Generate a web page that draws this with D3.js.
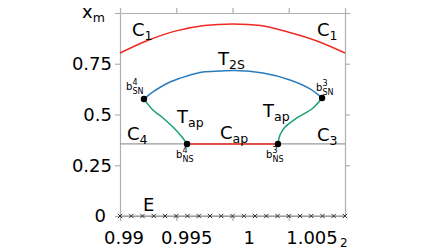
<!DOCTYPE html>
<html>
<head>
<meta charset="UTF-8">
<title></title>
<style>
  body { margin: 0; background: #fff; }
  svg text { font-family: "DejaVu Sans", sans-serif; fill: #000; }
  .axis path, .axis line { stroke: #b0b0b0; stroke-width: 1.2; }
</style>
</head>
<body>
<script src="https://cdn.jsdelivr.net/npm/d3@7"></script>
<script>
var width = 448;
var height = 252;

// axis ticks
var xTicks = [0.99, 0.995, 1, 1.005, 1.01];
var xTickLabels = ["0.99", "0.995", "1", "1.005"];
var yTicks = [0, 0.25, 0.5, 0.75, 1];
var yTickLabels = ["0", "0.25", "0.5", "0.75", ""];

// C1 branch (red, top)
var c1X = [0.99, 0.9925, 0.995, 0.9975, 1.0, 1.0025, 1.005, 1.0075, 1.01];
var c1Y = [0.803, 0.866, 0.912, 0.938, 0.946, 0.938, 0.905, 0.862, 0.803];

// T2S branch (blue)
var t2sX = [0.99213, 0.99293, 0.99444, 0.99596, 0.99738, 0.99889, 1.00022, 1.00271, 1.00511, 1.00689, 1.00796];
var t2sY = [0.576, 0.611, 0.660, 0.690, 0.709, 0.714, 0.717, 0.704, 0.670, 0.626, 0.581];

// Tap branches (green)
var tapLeftX = [0.99213, 0.99293, 0.99382, 0.99471, 0.99551, 0.99596];
var tapLeftY = [0.576, 0.522, 0.483, 0.438, 0.389, 0.355];
var tapRightX = [1.00796, 1.00716, 1.00573, 1.00467, 1.00422, 1.00404];
var tapRightY = [0.581, 0.532, 0.483, 0.438, 0.399, 0.355];

// C4 / C3 level (grey) and Cap (red)
var c34X = [0.99, 1.01];
var c34Y = [0.355, 0.355];
var capX = [0.99596, 1.00404];
var capY = [0.355, 0.355];

// E branch (crosses at zero)
var eX = [0.99, 0.991, 0.992, 0.993, 0.994, 0.995, 0.996, 0.997, 0.998, 0.999, 1.0,
          1.001, 1.002, 1.003, 1.004, 1.005, 1.006, 1.007, 1.008, 1.009, 1.01];
var eY = [0, 0, 0, 0, 0, 0, 0, 0, 0, 0, 0, 0, 0, 0, 0, 0, 0, 0, 0, 0, 0];

// bifurcation points b4SN, b3SN, b4NS, b3NS
var bX = [0.99213, 1.00796, 0.99596, 1.00404];
var bY = [0.576, 0.581, 0.355, 0.355];

var svg = d3.select("body").append("svg")
  .attr("width", width)
  .attr("height", height);

var x = d3.scaleLinear().domain([0.99, 1.01]).range([120, 345]);
var y = d3.scaleLinear().domain([0, 1]).range([216, 13]);
// tick labels sit a bit to the right of their ticks in the original
var xl = d3.scaleLinear().domain([0.99, 1.005]).range([124, 312]);

function zip(xs, ys) { return xs.map(function(v, i) { return [v, ys[i]]; }); }

var line = d3.line()
  .x(function(d) { return x(d[0]); })
  .y(function(d) { return y(d[1]); })
  .curve(d3.curveCatmullRom);

// axes (spines)
svg.append("g").attr("class", "axis")
  .attr("transform", "translate(120,0)")
  .call(d3.axisLeft(y).tickValues(yTicks).tickSize(5).tickSizeOuter(0).tickPadding(3)
    .tickFormat(function(d, i) { return yTickLabels[i]; }))
  .call(function(g) {
    g.selectAll("text").style("font-size", "18px").attr("fill", "#000");
    g.selectAll(".tick").filter(function(d) { return d === 0; }).select("text").attr("dx", -6);
  });
svg.append("g").attr("class", "axis")
  .attr("transform", "translate(345,0)")
  .call(d3.axisRight(y).tickValues(yTicks.slice(1)).tickSize(5).tickSizeOuter(0).tickFormat(""));
svg.append("g").attr("class", "axis")
  .attr("transform", "translate(0,13)")
  .call(d3.axisTop(x).tickValues(xTicks).tickSize(5).tickSizeOuter(0).tickFormat(""));
svg.append("g").attr("class", "axis")
  .attr("transform", "translate(0,216)")
  .call(d3.axisBottom(x).tickValues(xTicks.slice(0, 4)).tickSize(5).tickSizeOuter(0).tickFormat(""));

// x tick labels
svg.selectAll(".xlab")
  .data(xTickLabels)
  .enter()
  .append("text")
  .attr("class", "xlab")
  .attr("x", function(d, i) { return xl(xTicks[i]); })
  .attr("y", 244)
  .attr("text-anchor", "middle")
  .style("font-size", "18px")
  .text(function(d) { return d; });
svg.append("text").attr("x", 340).attr("y", 247).style("font-size", "12px").text("2");

// curves
svg.append("path").datum(zip(c34X, c34Y)).attr("d", line)
  .attr("fill", "none").attr("stroke", "#9a9a9a").attr("stroke-width", 1.2);
svg.append("path").datum(zip(c1X, c1Y)).attr("d", line)
  .attr("fill", "none").attr("stroke", "#ee2a22").attr("stroke-width", 1.5);
svg.append("path").datum(zip(t2sX, t2sY)).attr("d", line)
  .attr("fill", "none").attr("stroke", "#2a7cbd").attr("stroke-width", 1.5);
svg.append("path").datum(zip(tapLeftX, tapLeftY)).attr("d", line)
  .attr("fill", "none").attr("stroke", "#17a077").attr("stroke-width", 1.5);
svg.append("path").datum(zip(tapRightX, tapRightY)).attr("d", line)
  .attr("fill", "none").attr("stroke", "#17a077").attr("stroke-width", 1.5);
svg.append("path").datum(zip(capX, capY)).attr("d", line)
  .attr("fill", "none").attr("stroke", "#ee2a22").attr("stroke-width", 1.5);

// E: crosses along zero
svg.append("path").datum(zip(eX, eY)).attr("d", d3.line().x(function(d) { return x(d[0]); }).y(function(d) { return y(d[1]); }))
  .attr("fill", "none").attr("stroke", "#888").attr("stroke-width", 1);
svg.selectAll(".ex")
  .data(zip(eX, eY))
  .enter()
  .append("path")
  .attr("class", "ex")
  .attr("d", d3.symbol(d3.symbolX, 14))
  .attr("transform", function(d) { return "translate(" + x(d[0]) + "," + y(d[1]) + ")"; })
  .attr("fill", "none")
  .attr("stroke", "#333")
  .attr("stroke-width", 1);

// bifurcation dots
svg.selectAll(".bdot")
  .data(zip(bX, bY))
  .enter()
  .append("circle")
  .attr("class", "bdot")
  .attr("cx", function(d) { return x(d[0]); })
  .attr("cy", function(d) { return y(d[1]); })
  .attr("r", 3.2)
  .attr("fill", "#000");

// branch labels: main letter with subscript
function label(px, py, main, sub) {
  var t = svg.append("text").attr("x", px).attr("y", py).style("font-size", "18px");
  t.append("tspan").text(main);
  if (sub) t.append("tspan").attr("dy", 4).style("font-size", "12.5px").text(sub);
}
label(132, 36, "C", "1");
label(317, 36, "C", "1");
label(218, 65, "T", "2S");
label(177, 123, "T", "ap");
label(263, 117, "T", "ap");
label(127, 140, "C", "4");
label(220, 139, "C", "ap");
label(317, 141, "C", "3");
label(143, 211, "E", "");
label(82, 18, "x", "m");

// point labels: b with superscript and subscript
function blabel(px, py, sup, sub) {
  svg.append("text").attr("x", px).attr("y", py).style("font-size", "10px").attr("fill", "#222").text("b");
  svg.append("text").attr("x", px + 6.5).attr("y", py - 5).style("font-size", "8px").attr("fill", "#222").text(sup);
  svg.append("text").attr("x", px + 6.5).attr("y", py + 4).style("font-size", "8px").attr("fill", "#222").text(sub);
}
blabel(126, 90, "4", "SN");
blabel(316, 91, "3", "SN");
blabel(176, 158, "4", "NS");
blabel(266, 158, "3", "NS");
</script>
</body>
</html>
